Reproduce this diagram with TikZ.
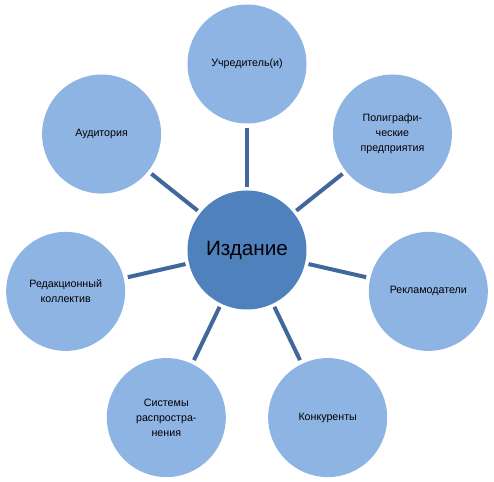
\documentclass[tikz,border=0pt]{standalone}
\usepackage{fontspec}
\setmainfont{Liberation Sans}
\usepackage{xcolor}
\usepackage{tikz}
\definecolor{hubBlue}{HTML}{4F81BD}
\definecolor{leafBlue}{HTML}{8EB4E3}
\definecolor{linkBlue}{HTML}{41689B}
\tikzset{
  hub/.style={circle, fill=hubBlue, minimum size=89.25pt, inner sep=0pt, font=\fontsize{15.5}{19}\selectfont, text=black},
  leaf/.style={circle, fill=leafBlue, minimum size=89.25pt, inner sep=0pt, align=center, font=\fontsize{8}{11.25}\selectfont, text=black},
  link/.style={draw=linkBlue, line width=3pt, shorten <=2.5pt, shorten >=3pt},
}
\begin{document}
\begin{tikzpicture}
\useasboundingbox (-185.25pt,-174pt) rectangle (185.25pt,187.5pt);
\node[hub] (pub) at (0,0) {Издание};
\node[leaf] (founder) at (90:139.5pt) {Учредитель(и)};
\node[leaf] (print) at (38.57:139.5pt) {Полиграфи-\\ческие\\предприятия};
\node[leaf] (advert) at (-12.86:139.5pt) {Рекламодатели};
\node[leaf] (rival) at (-64.29:139.5pt) {Конкуренты};
\node[leaf] (distrib) at (-115.71:139.5pt) {Системы\\распростра-\\нения};
\node[leaf] (staff) at (-167.14:139.5pt) {Редакционный\\коллектив};
\node[leaf] (reader) at (141.43:139.5pt) {Аудитория};
\draw[link] (pub) -- (founder);
\draw[link] (pub) -- (print);
\draw[link] (pub) -- (advert);
\draw[link] (pub) -- (rival);
\draw[link] (pub) -- (distrib);
\draw[link] (pub) -- (staff);
\draw[link] (pub) -- (reader);
\end{tikzpicture}
\end{document}
